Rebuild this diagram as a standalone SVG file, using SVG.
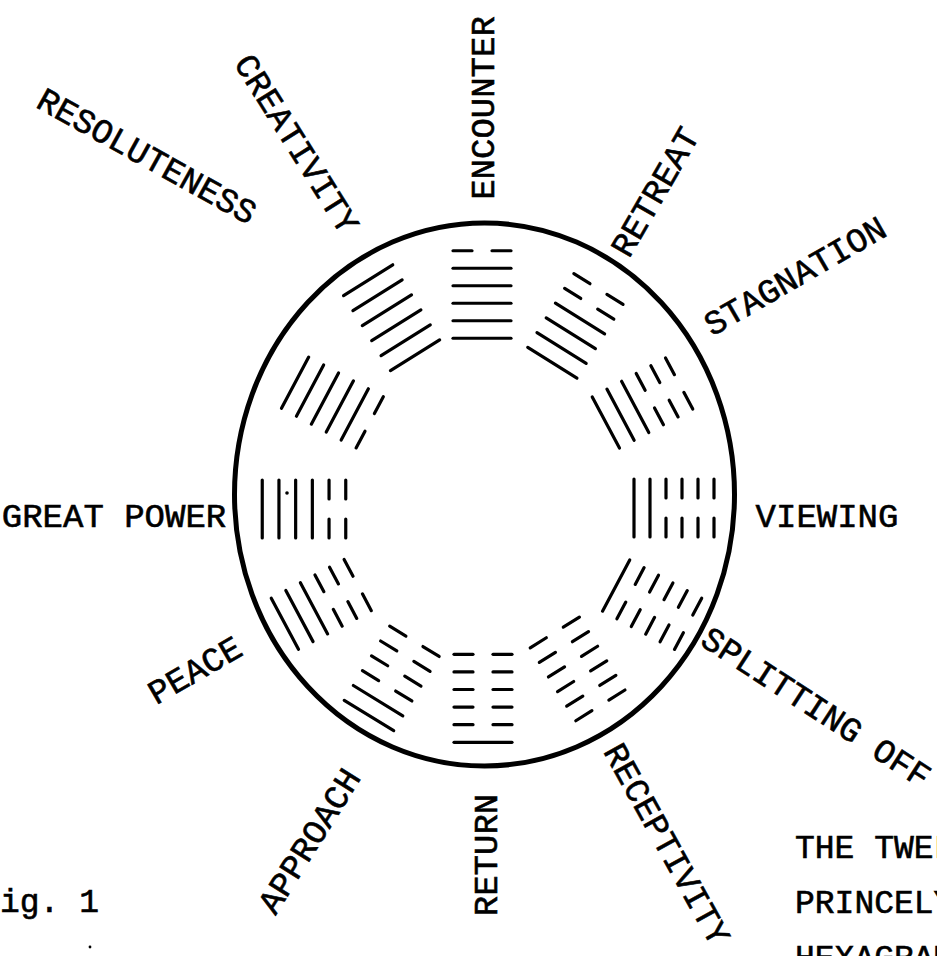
<svg xmlns="http://www.w3.org/2000/svg" xmlns:xlink="http://www.w3.org/1999/xlink" width="937" height="956" viewBox="0 0 937 956">
<style>
.ln{stroke:#000;stroke-width:3.2;stroke-linecap:round;fill:none}
.ring{stroke:#000;stroke-width:5;fill:none}
.lbl{font-family:"Liberation Mono","DejaVu Sans Mono",monospace;font-size:34px;fill:#000;stroke:#000;stroke-width:0.6;text-anchor:middle;dominant-baseline:central}
.txt{font-family:"Liberation Mono","DejaVu Sans Mono",monospace;font-size:33px;fill:#000;stroke:#000;stroke-width:0.6}
.speck{fill:#000}
</style>
<defs>
<g id="yang"><line class="ln" x1="-29" y1="0" x2="29" y2="0"/></g>
<g id="yin"><line class="ln" x1="-29" y1="0" x2="-10" y2="0"/><line class="ln" x1="10" y1="0" x2="29" y2="0"/></g>
</defs>
<rect width="937" height="956" fill="#fff"/>
<ellipse class="ring" cx="484.5" cy="494.5" rx="250" ry="271.5"/>

<g id="encounter" transform="translate(482,294.5) rotate(0)">
<use xlink:href="#yin" y="-43.75"/><use xlink:href="#yang" y="-26.25"/><use xlink:href="#yang" y="-8.75"/><use xlink:href="#yang" y="8.75"/><use xlink:href="#yang" y="26.25"/><use xlink:href="#yang" y="43.75"/>
</g>
<g id="retreat" transform="translate(575.4,325.9) rotate(32)">
<use xlink:href="#yin" y="-43.5"/><use xlink:href="#yin" y="-26.1"/><use xlink:href="#yang" y="-8.7"/><use xlink:href="#yang" y="8.7"/><use xlink:href="#yang" y="26.1"/><use xlink:href="#yang" y="43.5"/>
</g>
<g id="stagnation" transform="translate(642.5,403) rotate(62)">
<use xlink:href="#yin" y="-41.5"/><use xlink:href="#yin" y="-24.9"/><use xlink:href="#yin" y="-8.3"/><use xlink:href="#yang" y="8.3"/><use xlink:href="#yang" y="24.9"/><use xlink:href="#yang" y="41.5"/>
</g>
<g id="viewing" transform="translate(674,508) rotate(90)">
<use xlink:href="#yin" y="-40"/><use xlink:href="#yin" y="-24"/><use xlink:href="#yin" y="-8"/><use xlink:href="#yin" y="8"/><use xlink:href="#yang" y="24"/><use xlink:href="#yang" y="40"/>
</g>
<g id="splitting-off" transform="translate(652.1,604.7) rotate(118)">
<use xlink:href="#yin" y="-40.75"/><use xlink:href="#yin" y="-24.45"/><use xlink:href="#yin" y="-8.15"/><use xlink:href="#yin" y="8.15"/><use xlink:href="#yin" y="24.45"/><use xlink:href="#yang" y="40.75"/>
</g>
<g id="receptivity" transform="translate(577.6,668.9) rotate(148)">
<use xlink:href="#yin" y="-43"/><use xlink:href="#yin" y="-25.8"/><use xlink:href="#yin" y="-8.6"/><use xlink:href="#yin" y="8.6"/><use xlink:href="#yin" y="25.8"/><use xlink:href="#yin" y="43"/>
</g>
<g id="return" transform="translate(483,698.3) rotate(180)">
<use xlink:href="#yang" y="-44"/><use xlink:href="#yin" y="-26.4"/><use xlink:href="#yin" y="-8.8"/><use xlink:href="#yin" y="8.8"/><use xlink:href="#yin" y="26.4"/><use xlink:href="#yin" y="44"/>
</g>
<g id="approach" transform="translate(391.7,678.4) rotate(211.5)">
<use xlink:href="#yang" y="-43.5"/><use xlink:href="#yang" y="-26.1"/><use xlink:href="#yin" y="-8.7"/><use xlink:href="#yin" y="8.7"/><use xlink:href="#yin" y="26.1"/><use xlink:href="#yin" y="43.5"/>
</g>
<g id="peace" transform="translate(321.3,604.4) rotate(-118)">
<use xlink:href="#yang" y="-41.25"/><use xlink:href="#yang" y="-24.75"/><use xlink:href="#yang" y="-8.25"/><use xlink:href="#yin" y="8.25"/><use xlink:href="#yin" y="24.75"/><use xlink:href="#yin" y="41.25"/>
</g>
<g id="great-power" transform="translate(304,509) rotate(-90)">
<use xlink:href="#yang" y="-41.75"/><use xlink:href="#yang" y="-25.05"/><use xlink:href="#yang" y="-8.35"/><use xlink:href="#yang" y="8.35"/><use xlink:href="#yin" y="25.05"/><use xlink:href="#yin" y="41.75"/>
</g>
<g id="resoluteness" transform="translate(332.4,402.5) rotate(-62)">
<use xlink:href="#yang" y="-42.25"/><use xlink:href="#yang" y="-25.35"/><use xlink:href="#yang" y="-8.45"/><use xlink:href="#yang" y="8.45"/><use xlink:href="#yang" y="25.35"/><use xlink:href="#yin" y="42.25"/>
</g>
<g id="creativity" transform="translate(391.6,317.7) rotate(-32)">
<use xlink:href="#yang" y="-44.25"/><use xlink:href="#yang" y="-26.55"/><use xlink:href="#yang" y="-8.85"/><use xlink:href="#yang" y="8.85"/><use xlink:href="#yang" y="26.55"/><use xlink:href="#yang" y="44.25"/>
</g>

<g id="labels">
<text class="lbl" transform="translate(485,108) rotate(-90)">ENCOUNTER</text>
<text class="lbl" transform="translate(295,145) rotate(58)">CREATIVITY</text>
<text class="lbl" transform="translate(657,193) rotate(-60)">RETREAT</text>
<text class="lbl" transform="translate(796,278) rotate(-30)" font-size="33">STAGNATION</text>
<text class="lbl" transform="translate(827,518)">VIEWING</text>
<text class="lbl" transform="translate(815,709) rotate(33)" font-size="32.5">SPLITTING OFF</text>
<text class="lbl" transform="translate(665,845) rotate(61)" font-size="33">RECEPTIVITY</text>
<text class="lbl" transform="translate(488,855) rotate(-90)">RETURN</text>
<text class="lbl" transform="translate(311,842) rotate(-58)">APPROACH</text>
<text class="lbl" transform="translate(196,672) rotate(-30)">PEACE</text>
<text class="lbl" transform="translate(114,518)" font-size="32.5">GREAT POWER</text>
<text class="lbl" transform="translate(146,158) rotate(29)">RESOLUTENESS</text>
</g>
<g id="caption">
<text class="txt" x="0" y="912">ig. 1</text>
<text class="txt" x="795" y="858">THE TWEL</text>
<text class="txt" x="795" y="913">PRINCELY</text>
<text class="txt" x="795" y="968">HEXAGRAM</text>
</g>
<g id="specks">
<circle class="speck" cx="287" cy="493" r="1.8"/>
<circle class="speck" cx="90" cy="947" r="1.4"/>
</g>
</svg>
